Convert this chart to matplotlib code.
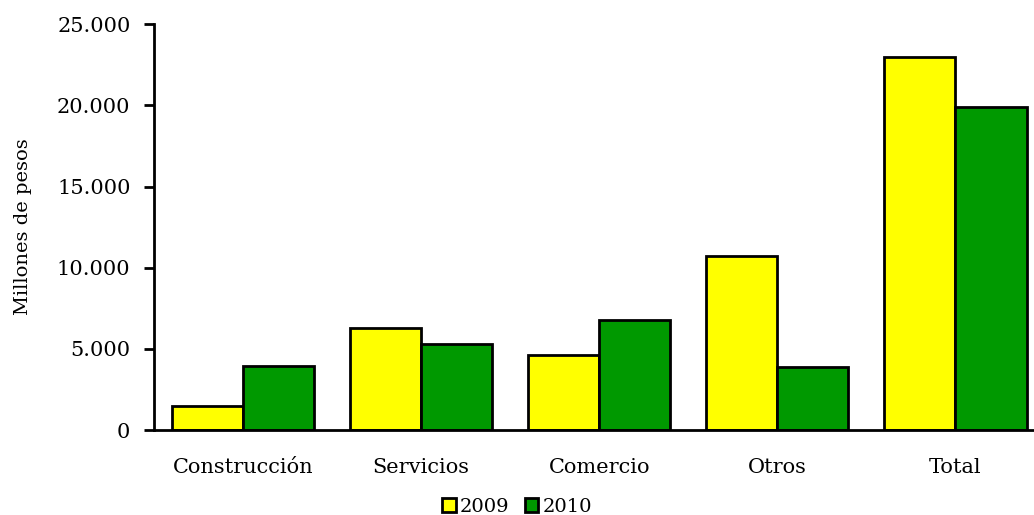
import numpy as np
import matplotlib
matplotlib.use("Agg")
import matplotlib.pyplot as plt

categories = ["Construcción", "Servicios", "Comercio", "Otros", "Total"]
values_2009 = [1480, 6280, 4620, 10710, 22970]
values_2010 = [3940, 5300, 6770, 3880, 19890]
series_names = ["2009", "2010"]

plt.rcParams["font.family"] = ["DejaVu Serif"]

fig = plt.figure(figsize=(10.34, 5.15), dpi=100)
ax = fig.add_axes([0.149, 0.165, 0.861, 0.788])

x = np.arange(len(categories))
w = 0.40
b1 = ax.bar(x - w / 2, values_2009, w, color="#ffff00", edgecolor="black",
            linewidth=2, label=series_names[0])
b2 = ax.bar(x + w / 2, values_2010, w, color="#009900", edgecolor="black",
            linewidth=2, label=series_names[1])

ax.set_xlim(-0.5, len(categories) - 0.5)
ax.set_ylim(0, 25000)
ax.set_yticks(range(0, 25001, 5000))
ax.set_yticklabels(["0" if v == 0 else f"{v:,}".replace(",", ".") for v in range(0, 25001, 5000)])
ax.set_xticks(x)
ax.set_xticklabels(categories)
ax.tick_params(axis="y", direction="out", length=7, width=2, labelsize=15, pad=10)
ax.tick_params(axis="x", length=0, labelsize=15, pad=20)

for s in ["top", "right"]:
    ax.spines[s].set_visible(False)
for s in ["left", "bottom"]:
    ax.spines[s].set_linewidth(2)

ax.set_ylabel("Millones de pesos", fontsize=14, labelpad=18)

leg = fig.legend(handles=[b1, b2], loc="lower center", bbox_to_anchor=(0.5, -0.035),
                 ncol=2, frameon=False, fontsize=14, handlelength=0.7,
                 handleheight=0.7, handletextpad=0.2, columnspacing=0.8)

fig.savefig("out.png", dpi=100)
